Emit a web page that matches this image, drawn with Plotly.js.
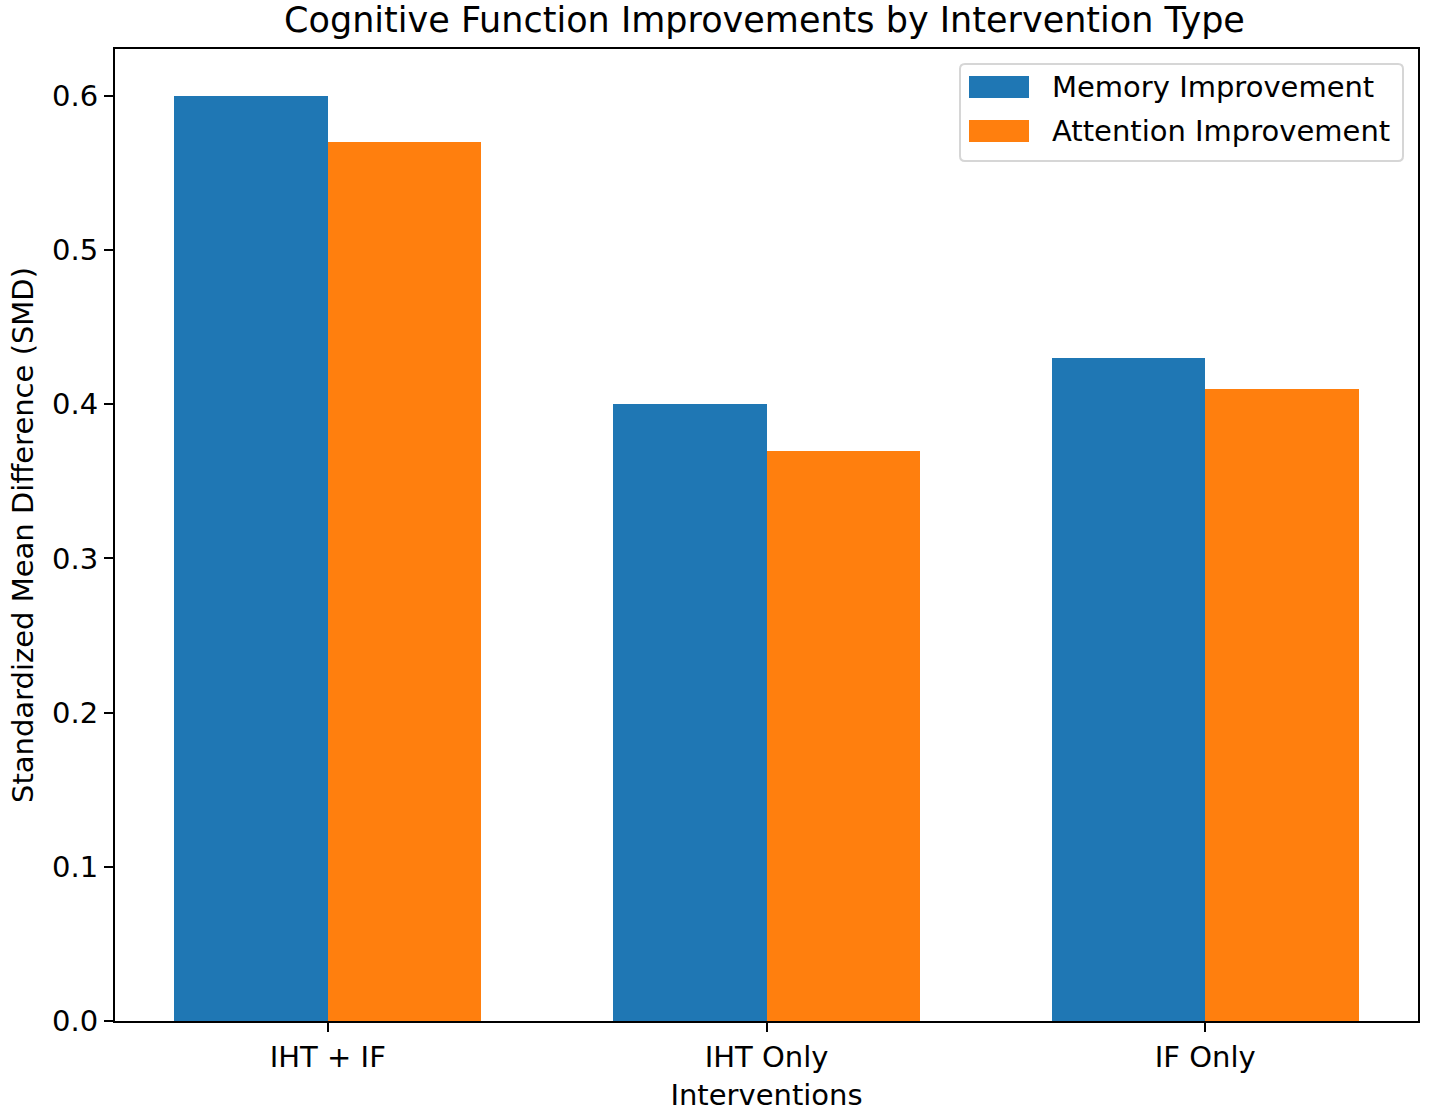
<!DOCTYPE html>
<html>
<head>
<meta charset="utf-8">
<script src="https://cdn.plot.ly/plotly-3.0.1.min.js"></script>
<style>html,body{margin:0;padding:0;background:#fff;}#chart{width:1429px;height:1114px;}</style>
</head>
<body>
<div id="chart"></div>
<script>
const categories = ["IHT + IF", "IHT Only", "IF Only"];
const seriesNames = ["Memory Improvement", "Attention Improvement"];
const memoryImprovement = [0.60, 0.40, 0.43];
const attentionImprovement = [0.57, 0.37, 0.41];
const yTickVals = [0.0, 0.1, 0.2, 0.3, 0.4, 0.5, 0.6];
const yTickText = ["0.0", "0.1", "0.2", "0.3", "0.4", "0.5", "0.6"];
const seriesColors = ["#1f77b4", "#ff7f0e"];

const xPos = categories.map((c, i) => i);
const FONT = "DejaVu Sans, sans-serif";
const FS = 29;

const traces = [
  {
    type: "bar", name: seriesNames[0],
    x: xPos, y: memoryImprovement,
    width: 0.35, offset: -0.35,
    marker: {color: seriesColors[0], line: {width: 0}},
    hoverinfo: "y"
  },
  {
    type: "bar", name: seriesNames[1],
    x: xPos, y: attentionImprovement,
    width: 0.35, offset: 0,
    marker: {color: seriesColors[1], line: {width: 0}},
    hoverinfo: "y"
  }
];

// plot area in pixels
const PL = 115, PR = 1418, PT = 49, PB = 1021;
const px = v => (v - PL) / (PR - PL);
const py = v => (PB - v) / (PB - PT);

// rounded legend frame
function roundedRect(x0, y0, x1, y1, r) {
  const X = px, Y = py;
  return `M ${X(x0 + r)} ${Y(y0)} L ${X(x1 - r)} ${Y(y0)} Q ${X(x1)} ${Y(y0)} ${X(x1)} ${Y(y0 + r)} ` +
         `L ${X(x1)} ${Y(y1 - r)} Q ${X(x1)} ${Y(y1)} ${X(x1 - r)} ${Y(y1)} ` +
         `L ${X(x0 + r)} ${Y(y1)} Q ${X(x0)} ${Y(y1)} ${X(x0)} ${Y(y1 - r)} ` +
         `L ${X(x0)} ${Y(y0 + r)} Q ${X(x0)} ${Y(y0)} ${X(x0 + r)} ${Y(y0)} Z`;
}

const shapes = [{
  type: "path", xref: "paper", yref: "paper",
  path: roundedRect(960, 64, 1403, 161, 5),
  fillcolor: "rgba(255,255,255,0.8)", line: {color: "#d6d6d6", width: 2}
}];
const annotations = [];
const rowCenters = [87, 131];
seriesNames.forEach((name, i) => {
  const c = rowCenters[i];
  shapes.push({
    type: "rect", xref: "paper", yref: "paper",
    x0: px(969), x1: px(1029), y0: py(c - 11), y1: py(c + 11),
    fillcolor: seriesColors[i], line: {width: 0}
  });
  annotations.push({
    xref: "paper", yref: "paper", x: px(1050), y: py(c),
    xanchor: "left", yanchor: "middle", showarrow: false,
    text: name, font: {family: FONT, size: FS, color: "#000"}
  });
});

const layout = {
  width: 1429, height: 1114,
  margin: {l: PL, r: 1429 - PR, t: PT, b: 1114 - PB},
  paper_bgcolor: "#fff", plot_bgcolor: "#fff",
  font: {family: FONT, size: FS, color: "#000"},
  barmode: "overlay",
  bargap: 0,
  title: {text: "Cognitive Function Improvements by Intervention Type", font: {family: FONT, size: 35, color: "#000"}, x: 0.535, xanchor: "center", y: 0.982, yanchor: "middle"},
  showlegend: false,
  shapes: shapes,
  annotations: annotations,
  xaxis: {
    range: [-0.485, 2.485],
    tickmode: "array", tickvals: xPos, ticktext: categories,
    showline: true, linecolor: "#000", linewidth: 2, mirror: true,
    ticks: "outside", ticklen: 9, tickwidth: 2, tickcolor: "#000",
    showgrid: false, zeroline: false,
    tickfont: {family: FONT, size: FS, color: "#000"},
    title: {text: "Interventions", font: {family: FONT, size: FS, color: "#000"}, standoff: 12}
  },
  yaxis: {
    range: [0, 0.6304],
    tickmode: "array", tickvals: yTickVals, ticktext: yTickText,
    showline: true, linecolor: "#000", linewidth: 2, mirror: true,
    ticks: "outside", ticklen: 9, tickwidth: 2, tickcolor: "#000",
    showgrid: false, zeroline: false,
    tickfont: {family: FONT, size: FS, color: "#000"},
    title: {text: "Standardized Mean Difference (SMD)", font: {family: FONT, size: FS, color: "#000"}, standoff: 10}
  }
};

Plotly.newPlot("chart", traces, layout, {displayModeBar: false, staticPlot: true});
</script>
</body>
</html>
